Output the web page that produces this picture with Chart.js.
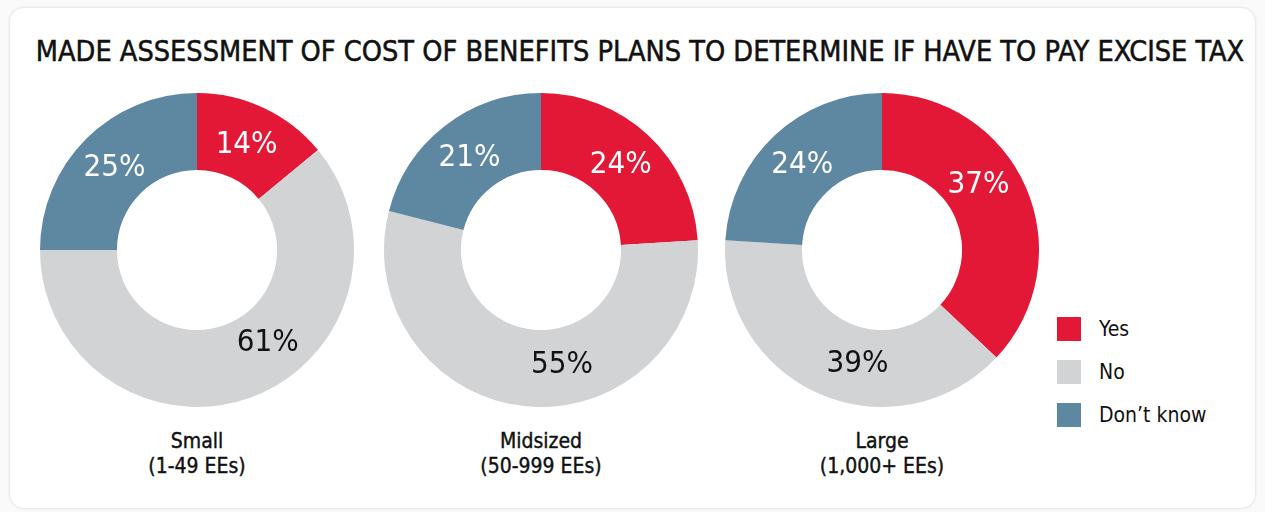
<!DOCTYPE html>
<html>
<head>
<meta charset="utf-8">
<script src="https://cdn.jsdelivr.net/npm/chart.js@4"></script>
<style>
  body { margin: 0; background: #fafafa; width: 1265px; height: 512px; overflow: hidden; font-family: "DejaVu Sans Condensed", "Roboto", sans-serif; }
  .card { position: absolute; left: 10px; top: 8px; width: 1245px; height: 500px; background: #fff; border-radius: 14px; box-shadow: 0 0 3px rgba(0,0,0,0.18); }
  h1 { position: absolute; left: 0; top: 34px; width: 1280px; margin: 0; text-align: center; font-size: 28.6px; font-weight: normal; color: #111; white-space: nowrap; -webkit-text-stroke: 0.5px #111; }
  .pie { position: absolute; top: 93px; width: 314px; height: 314px; }
  .cap { position: absolute; top: 429px; width: 300px; text-align: center; font-size: 21px; line-height: 25px; color: #111; -webkit-text-stroke: 0.4px #111; }
  .legend { position: absolute; left: 1057px; top: 317px; font-size: 21px; color: #111; white-space: nowrap; }
  .legend div { height: 43px; position: relative; }
  .legend span.sw { position: absolute; left: 0; top: 0; width: 24px; height: 24px; }
  .legend span.tx { position: absolute; left: 42px; top: 0px; }
</style>
</head>
<body>
<div class="card"></div>
<h1 id="title"></h1>
<canvas id="c0" class="pie" style="left:40px"></canvas>
<canvas id="c1" class="pie" style="left:384px"></canvas>
<canvas id="c2" class="pie" style="left:725px"></canvas>
<div class="cap" style="left:47px">Small<br>(1-49 EEs)</div>
<div class="cap" style="left:391px">Midsized<br>(50-999 EEs)</div>
<div class="cap" style="left:732px">Large<br>(1,000+ EEs)</div>
<div class="legend" id="legend"></div>
<script>
const title = 'MADE ASSESSMENT OF COST OF BENEFITS PLANS TO DETERMINE IF HAVE TO PAY EXCISE TAX';
const answers = ['Yes', 'No', 'Don\u2019t know'];
const colors = ['#e31837', '#d1d3d4', '#5e87a1'];
const labelColors = ['#ffffff', '#111111', '#ffffff'];
const small = [14, 61, 25];
const midsized = [24, 55, 21];
const large = [37, 39, 24];

document.getElementById('title').textContent = title;

const legendEl = document.getElementById('legend');
answers.forEach((a, i) => {
    const row = document.createElement('div');
    row.innerHTML = '<span class="sw" style="background:' + colors[i] + '"></span><span class="tx">' + a + '</span>';
    legendEl.appendChild(row);
});

// draws the percent text on each slice
const sliceLabels = {
    id: 'sliceLabels',
    afterDatasetsDraw(chart) {
        const ctx = chart.ctx;
        const meta = chart.getDatasetMeta(0);
        ctx.save();
        ctx.font = '31px "DejaVu Sans Condensed", Roboto, sans-serif';
        ctx.textAlign = 'center';
        ctx.textBaseline = 'middle';
        meta.data.forEach((arc, i) => {
            const p = arc.getProps(['x', 'y', 'startAngle', 'endAngle', 'innerRadius', 'outerRadius'], true);
            // big slices get their label pulled a little toward the end of the arc
            const span = p.endAngle - p.startAngle;
            const mid = p.startAngle + span * (span > 2 ? 0.42 : 0.5);
            const r = (p.innerRadius + p.outerRadius) / 2 - 2;
            ctx.fillStyle = labelColors[i];
            ctx.fillText(chart.data.datasets[0].data[i] + '%', p.x + Math.cos(mid) * r, p.y + Math.sin(mid) * r);
        });
        ctx.restore();
    }
};

function makePie(id, values) {
    new Chart(document.getElementById(id), {
        type: 'doughnut',
        data: {
            labels: answers,
            datasets: [{
                data: values,
                backgroundColor: colors,
                borderWidth: 0,
            }]
        },
        options: {
            cutout: '51%',
            responsive: false,
            animation: false,
            plugins: { legend: { display: false }, tooltip: { enabled: false } },
            layout: { padding: 0 }
        },
        plugins: [sliceLabels]
    });
}
[['c0', small], ['c1', midsized], ['c2', large]].forEach(([id, v]) => {
    const c = document.getElementById(id);
    c.width = 314; c.height = 314;
    makePie(id, v);
});
</script>
</body>
</html>
